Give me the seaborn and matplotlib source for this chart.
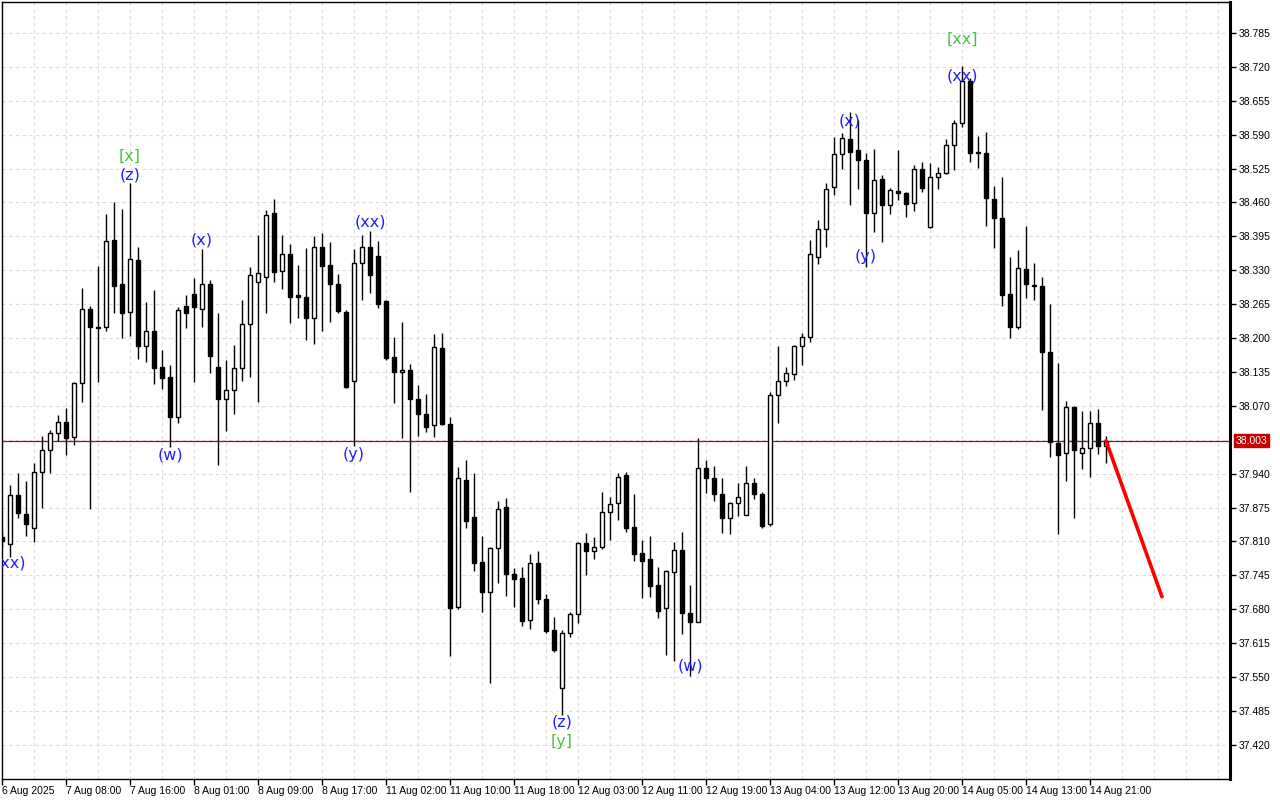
import numpy as np
import pandas as pd
import matplotlib
matplotlib.use("Agg")
import matplotlib.pyplot as plt
import seaborn as sns

# hourly candles (bar 0 is cut by the left edge)
opens = [37.818, 37.805, 37.899, 37.863, 37.836, 37.943, 37.986, 38.018, 38.039, 38.010,
         38.114, 38.256, 38.221, 38.221, 38.388, 38.304, 38.250, 38.350, 38.185, 38.214,
         38.145, 38.125, 38.049, 38.262, 38.285, 38.256, 38.304, 38.145, 38.083, 38.101,
         38.143, 38.227, 38.308, 38.317, 38.440, 38.329, 38.361, 38.283, 38.279, 38.239,
         38.375, 38.340, 38.304, 38.250, 38.118, 38.344, 38.375, 38.357, 38.271, 38.164,
         38.135, 38.139, 38.083, 38.055, 38.033, 38.181, 38.035, 37.685, 37.928, 37.857,
         37.771, 37.713, 37.798, 37.876, 37.748, 37.740, 37.660, 37.769, 37.700, 37.640,
         37.529, 37.635, 37.671, 37.807, 37.792, 37.800, 37.867, 37.884, 37.938, 37.838,
         37.788, 37.777, 37.727, 37.683, 37.752, 37.794, 37.673, 37.656, 37.951, 37.932,
         37.901, 37.855, 37.884, 37.861, 37.922, 37.901, 37.843, 38.091, 38.118, 38.131,
         38.185, 38.202, 38.356, 38.409, 38.490, 38.553, 38.582, 38.561, 38.542, 38.440,
         38.505, 38.455, 38.482, 38.478, 38.459, 38.524, 38.413, 38.509, 38.517, 38.570,
         38.612, 38.693, 38.557, 38.555, 38.467, 38.430, 38.285, 38.221, 38.333, 38.302,
         38.300, 38.173, 37.999, 37.980, 38.068, 37.980, 37.989, 38.037, 37.993]
highs = [37.830, 37.918, 37.941, 37.926, 37.961, 38.012, 38.024, 38.053, 38.066, 38.116,
         38.296, 38.262, 38.338, 38.438, 38.461, 38.448, 38.497, 38.375, 38.269, 38.292,
         38.177, 38.148, 38.260, 38.283, 38.315, 38.371, 38.311, 38.248, 38.158, 38.187,
         38.273, 38.336, 38.398, 38.446, 38.467, 38.398, 38.380, 38.340, 38.373, 38.396,
         38.402, 38.384, 38.323, 38.254, 38.371, 38.398, 38.405, 38.386, 38.273, 38.202,
         38.231, 38.150, 38.110, 38.093, 38.208, 38.210, 38.049, 37.953, 37.966, 37.941,
         37.821, 37.800, 37.888, 37.893, 37.759, 37.761, 37.786, 37.792, 37.709, 37.665,
         37.640, 37.675, 37.809, 37.826, 37.819, 37.905, 37.895, 37.941, 37.943, 37.901,
         37.813, 37.821, 37.761, 37.755, 37.809, 37.828, 37.727, 38.009, 37.966, 37.955,
         37.932, 37.886, 37.922, 37.955, 37.932, 37.905, 38.097, 38.185, 38.145, 38.186,
         38.210, 38.388, 38.427, 38.497, 38.586, 38.593, 38.634, 38.618, 38.555, 38.563,
         38.513, 38.488, 38.561, 38.480, 38.532, 38.538, 38.536, 38.528, 38.582, 38.618,
         38.722, 38.699, 38.588, 38.595, 38.492, 38.509, 38.356, 38.369, 38.415, 38.344,
         38.317, 38.265, 38.152, 38.079, 38.069, 38.060, 38.060, 38.064, 38.012]
lows = [37.800, 37.780, 37.855, 37.821, 37.809, 37.874, 37.941, 38.003, 37.976, 37.995,
        38.078, 37.872, 38.116, 38.214, 38.248, 38.200, 38.204, 38.160, 38.154, 38.112,
        38.102, 37.991, 38.037, 38.219, 38.116, 38.221, 38.133, 37.957, 38.022, 38.055,
        38.118, 38.125, 38.078, 38.248, 38.308, 38.294, 38.229, 38.239, 38.196, 38.189,
        38.214, 38.231, 38.248, 38.104, 37.993, 38.273, 38.287, 38.258, 38.158, 38.076,
        38.009, 37.905, 38.012, 38.020, 38.010, 38.033, 37.591, 37.681, 37.836, 37.754,
        37.675, 37.539, 37.731, 37.706, 37.685, 37.648, 37.642, 37.690, 37.635, 37.598,
        37.477, 37.627, 37.654, 37.746, 37.777, 37.796, 37.813, 37.851, 37.828, 37.773,
        37.702, 37.704, 37.663, 37.592, 37.581, 37.633, 37.552, 37.655, 37.903, 37.888,
        37.826, 37.824, 37.859, 37.860, 37.892, 37.836, 37.840, 38.037, 38.108, 38.120,
        38.148, 38.193, 38.342, 38.375, 38.474, 38.524, 38.455, 38.486, 38.336, 38.404,
        38.384, 38.438, 38.465, 38.432, 38.444, 38.480, 38.411, 38.486, 38.515, 38.522,
        38.605, 38.538, 38.526, 38.415, 38.373, 38.262, 38.200, 38.218, 38.277, 38.273,
        38.062, 37.972, 37.824, 37.926, 37.855, 37.949, 37.934, 37.978, 37.961]
closes = [37.810, 37.899, 37.865, 37.844, 37.943, 37.986, 38.018, 38.039, 38.009, 38.114,
          38.256, 38.221, 38.220, 38.386, 38.300, 38.248, 38.352, 38.185, 38.214, 38.143,
          38.124, 38.049, 38.254, 38.248, 38.260, 38.304, 38.166, 38.083, 38.101, 38.143,
          38.227, 38.321, 38.325, 38.436, 38.327, 38.361, 38.279, 38.279, 38.239, 38.375,
          38.338, 38.304, 38.252, 38.106, 38.344, 38.375, 38.321, 38.265, 38.162, 38.135,
          38.139, 38.083, 38.055, 38.030, 38.183, 38.035, 37.683, 37.932, 37.849, 37.769,
          37.713, 37.798, 37.872, 37.748, 37.738, 37.658, 37.769, 37.700, 37.638, 37.602,
          37.635, 37.671, 37.807, 37.792, 37.800, 37.867, 37.882, 37.934, 37.836, 37.786,
          37.773, 37.725, 37.677, 37.754, 37.794, 37.673, 37.656, 37.951, 37.932, 37.901,
          37.855, 37.884, 37.895, 37.922, 37.901, 37.840, 38.091, 38.118, 38.133, 38.185,
          38.202, 38.361, 38.409, 38.486, 38.553, 38.584, 38.557, 38.542, 38.440, 38.503,
          38.455, 38.484, 38.478, 38.457, 38.524, 38.488, 38.509, 38.517, 38.570, 38.612,
          38.693, 38.555, 38.555, 38.469, 38.430, 38.283, 38.221, 38.334, 38.304, 38.300,
          38.173, 38.001, 37.976, 38.068, 37.986, 37.989, 38.037, 37.993, 38.003]

time_labels = ["6 Aug 2025", "7 Aug 08:00", "7 Aug 16:00", "8 Aug 01:00", "8 Aug 09:00",
               "8 Aug 17:00", "11 Aug 02:00", "11 Aug 10:00", "11 Aug 18:00", "12 Aug 03:00",
               "12 Aug 11:00", "12 Aug 19:00", "13 Aug 04:00", "13 Aug 12:00", "13 Aug 20:00",
               "14 Aug 05:00", "14 Aug 13:00", "14 Aug 21:00"]

# wave markup
wave_text = ["(xx)", "[x]", "(z)", "(w)", "(x)", "(y)", "(xx)", "(z)", "[y]",
             "(w)", "(x)", "(y)", "[xx]", "(xx)"]
wave_bar = [1, 16, 16, 21, 25, 44, 46, 70, 70, 86, 106, 108, 120, 120]
wave_price = [37.768, 38.549, 38.513, 37.976, 38.388, 37.976, 38.423, 37.464, 37.426,
              37.571, 38.616, 38.356, 38.772, 38.703]
wave_degree = ["minor", "major", "minor", "minor", "minor", "minor", "minor", "minor",
               "major", "minor", "minor", "minor", "major", "minor"]

forecast_bar = [138, 145]
forecast_price = [38.003, 37.704]
bid = 38.003

price_ticks = [38.785, 38.720, 38.655, 38.590, 38.525, 38.460, 38.395, 38.330, 38.265,
               38.200, 38.135, 38.070, 37.940, 37.875, 37.810, 37.745, 37.680, 37.615,
               37.550, 37.485, 37.420]
grid_prices = [38.785 - 0.065 * i for i in range(22)]

sns.set_theme(style="white")
plt.rcParams['font.family'] = ['Liberation Sans', 'DejaVu Sans']

df = pd.DataFrame({"open": opens, "high": highs, "low": lows, "close": closes})
df["bar"] = np.arange(len(df))
df["up"] = df["close"] >= df["open"]
df["bottom"] = df[["open", "close"]].min(axis=1)
df["height"] = (df["close"] - df["open"]).abs().clip(lower=0.0012)

fig = plt.figure(figsize=(12.8, 8), dpi=100)
ax = fig.add_axes([2 / 1280, 21 / 800, 1228 / 1280, 777 / 800])

# grid
for p in grid_prices:
    ax.axhline(p, color='#dcdcdc', lw=0.8, ls=(0, (3, 3)), zorder=0)
for b in range(4, 154, 4):
    ax.axvline(b, color='#dcdcdc', lw=0.8, ls=(0, (3, 3)), zorder=0)

# candles
ax.vlines(df["bar"], df["low"], df["high"], color='black', lw=1, zorder=2)
up = df[df["up"]]
dn = df[~df["up"]]
ax.bar(up["bar"], up["height"], bottom=up["bottom"], width=0.62,
       color='white', edgecolor='black', linewidth=1, zorder=3)
ax.bar(dn["bar"], dn["height"], bottom=dn["bottom"], width=0.62,
       color='black', edgecolor='black', linewidth=1, zorder=3)

ax.axhline(bid, color='#a01010', lw=0.9, zorder=1)

sns.lineplot(x=forecast_bar, y=forecast_price, ax=ax, color='#ff0000', lw=2.6, zorder=4)

for t, b, p, d in zip(wave_text, wave_bar, wave_price, wave_degree):
    col = '#1f1fff' if d == "minor" else '#44c644'
    ax.text(b, p, t, color=col, fontsize=11.5, ha='center', va='center',
            family='DejaVu Sans', zorder=5, clip_on=True)

ax.set_xlim(0, 153.5)
ax.set_ylim(37.3546, 38.8444)

ax.set_xticks(np.arange(0, len(time_labels) * 8, 8))
ax.set_xticklabels(time_labels)
for lab in ax.get_xticklabels():
    lab.set_ha('left')
ax.tick_params(axis='x', direction='out', length=4, width=1, labelsize=7.5, pad=1,
               colors='black', bottom=True)

ax.yaxis.tick_right()
ax.set_yticks(price_ticks)
ax.set_yticklabels([f"{v:.3f}" for v in price_ticks])
ax.tick_params(axis='y', direction='out', length=4, width=1, labelsize=7.5, pad=2,
               colors='black', right=True)

ax.annotate(f"{bid:.3f}", xy=(1.0045, bid), xycoords=('axes fraction', 'data'),
            ha='left', va='center', fontsize=7.5, color='white',
            bbox=dict(boxstyle='square,pad=0.15', fc='#c80000', ec='#c80000'),
            annotation_clip=False)

for side in ['top', 'left', 'bottom']:
    ax.spines[side].set_color('black')
    ax.spines[side].set_linewidth(1)
ax.spines['right'].set_color('black')
ax.spines['right'].set_linewidth(2.2)
ax.set_xlabel("")
ax.set_ylabel("")

fig.savefig("out.png", dpi=100, facecolor='white')
